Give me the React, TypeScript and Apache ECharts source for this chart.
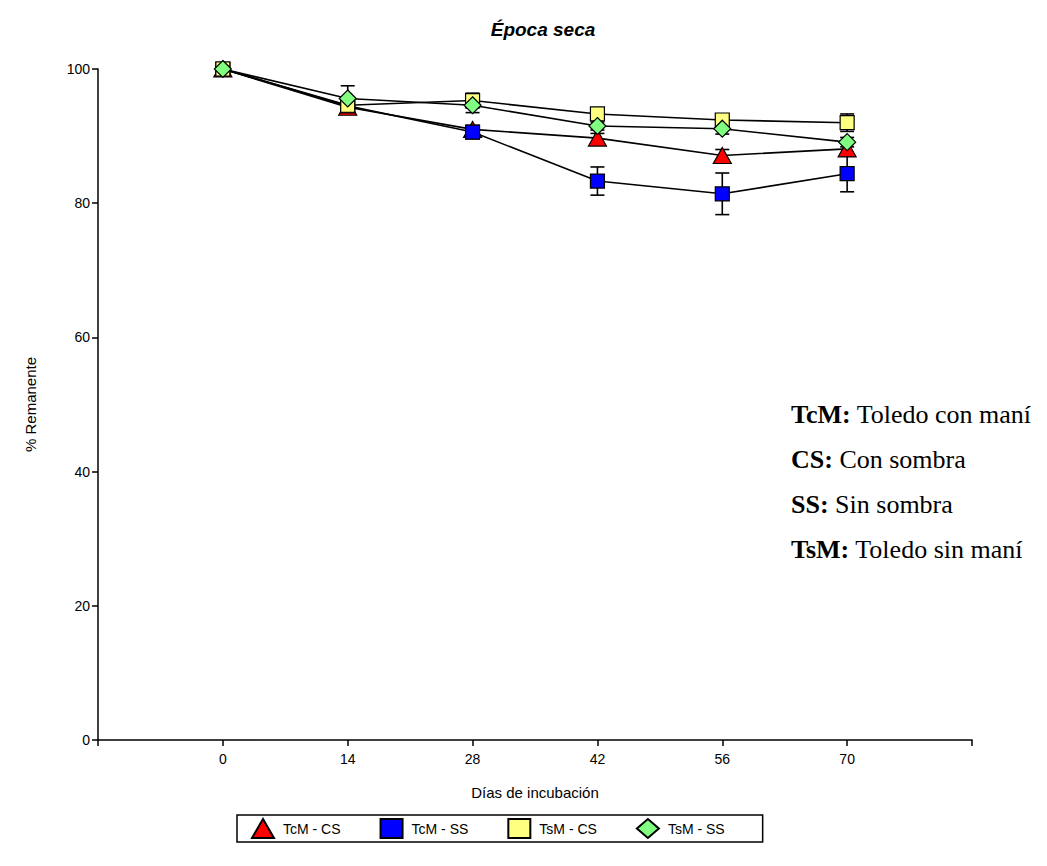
import React, { useEffect, useRef } from "react";
import * as echarts from "echarts";

const days = [0, 14, 28, 42, 56, 70];
const seriesNames = ["TcM - CS", "TcM - SS", "TsM - CS", "TsM - SS"];
const tcmCS = [100, 94.3, 91.0, 89.7, 87.1, 88.1];
const tcmCSErr = [0, 0.4, 0.5, 0.7, 0.9, 1.0];
const tcmSS = [100, 94.5, 90.6, 83.3, 81.4, 84.4];
const tcmSSErr = [0, 0.4, 1.0, 2.1, 3.1, 2.7];
const tsmCS = [100, 94.6, 95.3, 93.3, 92.4, 92.0];
const tsmCSErr = [0, 0.5, 1.1, 0.9, 0.5, 1.3];
const tsmSS = [100, 95.6, 94.6, 91.5, 91.1, 89.1];
const tsmSSErr = [0, 1.9, 1.1, 0.6, 0.8, 0.7];
const yTicks = [0, 20, 40, 60, 80, 100];

const colors = ["#ff0000", "#0000ff", "#ffff80", "#80ff80"];
const symbols = ["triangle", "rect", "rect", "diamond"];
const symbolSizes = [[18, 16], 14, 14, [17, 17]];
const values = [tcmCS, tcmSS, tsmCS, tsmSS];
const errors = [tcmCSErr, tcmSSErr, tsmCSErr, tsmSSErr];

const FONT = "'Liberation Sans', Arial, sans-serif";
const SERIF = "'Liberation Serif', 'Times New Roman', serif";

export default function App() {
  const ref = useRef<HTMLDivElement>(null);
  useEffect(() => {
    if (!ref.current) return;
    const chart = echarts.init(ref.current, undefined, { renderer: "svg" });
    const series: any[] = [];
    values.forEach((vals, i) => {
      const errData = days.map((d, j) => [d, vals[j] - errors[i][j], vals[j] + errors[i][j]]);
      series.push({
        type: "custom",
        name: seriesNames[i] + " err",
        z: 2,
        silent: true,
        data: errData.filter((e) => e[2] - e[1] > 0),
        renderItem: (params: any, api: any) => {
          const x = api.value(0);
          const lo = api.coord([x, api.value(1)]);
          const hi = api.coord([x, api.value(2)]);
          const w = 7;
          const st = { stroke: "#000", lineWidth: 1.6 };
          return {
            type: "group",
            children: [
              { type: "line", shape: { x1: lo[0], y1: lo[1], x2: hi[0], y2: hi[1] }, style: st },
              { type: "line", shape: { x1: lo[0] - w, y1: lo[1], x2: lo[0] + w, y2: lo[1] }, style: st },
              { type: "line", shape: { x1: hi[0] - w, y1: hi[1], x2: hi[0] + w, y2: hi[1] }, style: st },
            ],
          };
        },
      });
    });
    values.forEach((vals, i) => {
      series.push({
        type: "line",
        name: seriesNames[i],
        z: 3 + i,
        data: days.map((d, j) => [d, vals[j]]),
        symbol: symbols[i],
        symbolSize: symbolSizes[i],
        showAllSymbol: true,
        lineStyle: { color: "#000", width: 1.6 },
        itemStyle: { color: colors[i], borderColor: "#000", borderWidth: 1.2 },
        emphasis: { disabled: true },
      });
    });

    chart.setOption({
      animation: false,
      title: {
        text: "Época seca",
        left: 538,
        textAlign: "center",
        top: 15,
        textStyle: { fontFamily: FONT, fontSize: 19, fontWeight: "bold", fontStyle: "italic", color: "#000" },
      },
      grid: { left: 98, right: 75, top: 69, bottom: 126 },
      xAxis: {
        type: "value",
        min: -14,
        max: 84,
        interval: 14,
        name: "Días de incubación",
        nameLocation: "middle",
        nameGap: 45,
        nameTextStyle: { fontFamily: FONT, fontSize: 15, color: "#000" },
        axisLine: { lineStyle: { color: "#000", width: 1.5 } },
        axisTick: { length: 6, lineStyle: { color: "#000", width: 1.5 } },
        axisLabel: {
          fontFamily: FONT,
          fontSize: 14,
          color: "#000",
          margin: 12,
          formatter: (v: number) => (days.indexOf(v) >= 0 ? String(v) : ""),
        },
        splitLine: { show: false },
      },
      yAxis: {
        type: "value",
        min: yTicks[0],
        max: yTicks[yTicks.length - 1],
        interval: 20,
        name: "% Remanente",
        nameLocation: "middle",
        nameGap: 60,
        nameTextStyle: { fontFamily: FONT, fontSize: 15, color: "#000" },
        axisLine: { show: true, onZero: false, lineStyle: { color: "#000", width: 1.5 } },
        axisTick: { show: true, length: 6, lineStyle: { color: "#000", width: 1.5 } },
        axisLabel: { fontFamily: FONT, fontSize: 14, color: "#000", margin: 8 },
        splitLine: { show: false },
      },
      legend: {
        left: 237,
        top: 815,
        orient: "horizontal",
        borderColor: "#000",
        borderWidth: 1.5,
        padding: [3, 38, 3, 14],
        itemGap: 39,
        itemWidth: 22,
        itemHeight: 19,
        data: seriesNames.map((n, i) => ({ name: n, icon: symbols[i] })),
        textStyle: { fontFamily: FONT, fontSize: 14, color: "#000", padding: [0, 0, 0, 4] },
      },
      graphic: [
        {
          type: "group",
          left: 791,
          top: 401,
          children: [
            { b: "TcM:", t: " Toledo con maní", y: 0 },
            { b: "CS:", t: " Con sombra", y: 45 },
            { b: "SS:", t: " Sin sombra", y: 90 },
            { b: "TsM:", t: " Toledo sin maní", y: 135 },
          ].map((r) => ({
            type: "text",
            x: 0,
            y: r.y,
            style: {
              text: "{b|" + r.b + "}" + r.t,
              font: "26px " + SERIF,
              fill: "#000",
              rich: {
                b: { fontWeight: "bold", fontSize: 26, fontFamily: SERIF },
              },
            },
          })),
        },
      ],
      series,
    });
    return () => chart.dispose();
  }, []);
  return <div ref={ref} style={{ width: 1047, height: 866, position: "absolute", left: 0, top: 0 }} />;
}
